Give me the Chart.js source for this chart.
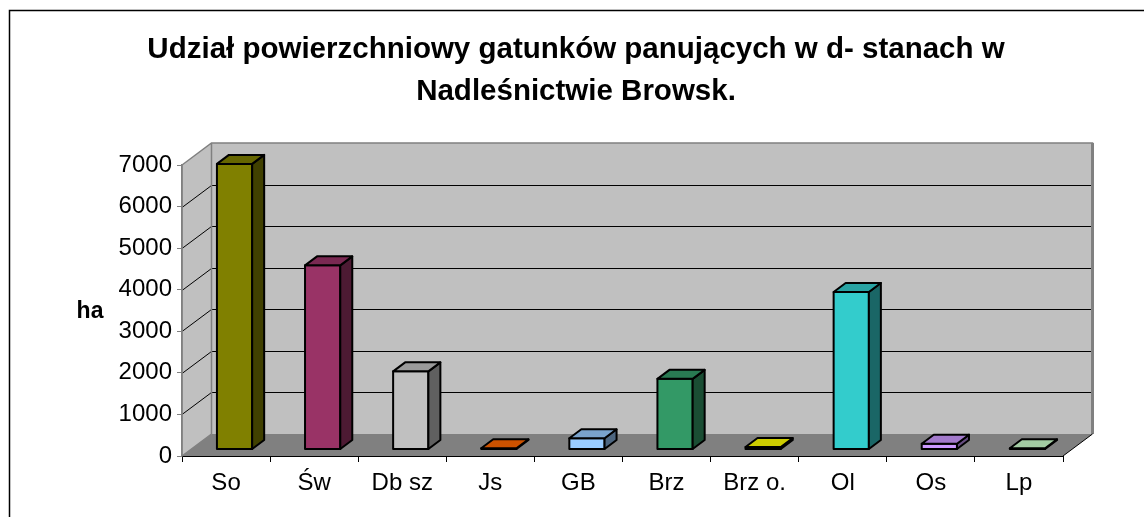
<!DOCTYPE html>
<html>
<head>
<meta charset="utf-8">
<script src="https://cdn.jsdelivr.net/npm/chart.js@4/dist/chart.umd.min.js"></script>
<style>
  html, body { margin: 0; padding: 0; background: #ffffff; }
  canvas { display: block; }
</style>
</head>
<body>
<canvas id="c" width="1144" height="517"></canvas>
<script>
const categories = ['So', 'Św', 'Db sz', 'Js', 'GB', 'Brz', 'Brz o.', 'Ol', 'Os', 'Lp'];
const areaHa = [6870, 4430, 1880, 30, 270, 1700, 60, 3790, 140, 30];
const barColors = ['#808000', '#993366', '#C0C0C0', '#FF6600', '#99CCFF', '#339966', '#FFFF00', '#33CCCC', '#CC99FF', '#CCFFCC'];
const yTicks = [0, 1000, 2000, 3000, 4000, 5000, 6000, 7000];
const titleLines = ['Udział powierzchniowy gatunków panujących w d- stanach w', 'Nadleśnictwie Browsk.'];
const yAxisName = 'ha';

const FONT = "'Liberation Sans', Arial, sans-serif";
// 3D projection constants (styling)
const DX = 29.5, DY = -22;      // floor/wall depth
const OX = 8.5, OY = -6.5;      // bar offset from front plane
const BDX = 12, BDY = -9;       // bar depth

function shade(hex, f) {
  const n = parseInt(hex.slice(1), 16);
  const r = Math.round(((n >> 16) & 255) * f);
  const g = Math.round(((n >> 8) & 255) * f);
  const b = Math.round((n & 255) * f);
  return `rgb(${r},${g},${b})`;
}

function poly(ctx, pts, fill, stroke, lw) {
  ctx.beginPath();
  ctx.moveTo(pts[0][0], pts[0][1]);
  for (let i = 1; i < pts.length; i++) ctx.lineTo(pts[i][0], pts[i][1]);
  ctx.closePath();
  if (fill) { ctx.fillStyle = fill; ctx.fill(); }
  if (stroke) { ctx.strokeStyle = stroke; ctx.lineWidth = lw || 1; ctx.stroke(); }
}

const wallsPlugin = {
  id: 'walls',
  beforeDraw(chart) {
    const ctx = chart.ctx;
    const ys = chart.scales.y;
    const a = chart.chartArea;
    ctx.save();
    ctx.fillStyle = '#ffffff';
    ctx.fillRect(0, 0, chart.width, chart.height);
    // outer frame
    ctx.strokeStyle = '#000000';
    ctx.lineWidth = 1.5;
    ctx.strokeRect(9.5, 10.5, chart.width + 20, chart.height + 20);

    const L = a.left, R = a.right;
    const T = ys.getPixelForValue(yTicks[yTicks.length - 1]);
    const B = ys.getPixelForValue(0);
    // back wall
    poly(ctx, [[L + DX, T + DY], [R + DX, T + DY], [R + DX, B + DY], [L + DX, B + DY]], '#C0C0C0', null);
    // left wall
    poly(ctx, [[L, T], [L + DX, T + DY], [L + DX, B + DY], [L, B]], '#C0C0C0', null);
    // floor
    poly(ctx, [[L, B], [R, B], [R + DX, B + DY], [L + DX, B + DY]], '#808080', null);

    // gridlines
    ctx.strokeStyle = '#000000';
    ctx.lineWidth = 1;
    for (const v of yTicks) {
      if (v === 0 || v === yTicks[yTicks.length - 1]) continue;
      const yy = Math.round(ys.getPixelForValue(v)) + 0.5;
      ctx.beginPath();
      ctx.moveTo(L, yy);
      ctx.lineTo(L + DX, yy + DY);
      ctx.lineTo(R + DX, yy + DY);
      ctx.stroke();
    }
    // wall edges (gray)
    ctx.strokeStyle = '#808080';
    ctx.lineWidth = 1.5;
    ctx.beginPath();
    ctx.moveTo(L, B); ctx.lineTo(L, T); ctx.lineTo(L + DX, T + DY); ctx.lineTo(R + DX, T + DY); ctx.lineTo(R + DX, B + DY);
    ctx.moveTo(L + DX, T + DY); ctx.lineTo(L + DX, B + DY);
    ctx.moveTo(L, B); ctx.lineTo(L + DX, B + DY);
    ctx.stroke();
    ctx.lineWidth = 3;
    ctx.beginPath();
    ctx.moveTo(R + DX, T + DY); ctx.lineTo(R + DX, B + DY);
    ctx.stroke();
    // floor right edge
    ctx.strokeStyle = '#000000';
    ctx.lineWidth = 1;
    ctx.beginPath();
    ctx.moveTo(R, B); ctx.lineTo(R + DX, B + DY);
    ctx.stroke();

    // axis name
    ctx.fillStyle = '#000000';
    ctx.font = 'bold 23px ' + FONT;
    ctx.textAlign = 'center';
    ctx.textBaseline = 'middle';
    ctx.fillText(yAxisName, 90, 312);
    ctx.restore();
  },
  afterDatasetsDraw(chart) {
    const ctx = chart.ctx;
    const meta = chart.getDatasetMeta(0);
    ctx.save();
    ctx.lineJoin = 'round';
    meta.data.forEach((el, i) => {
      const p = el.getProps(['x', 'y', 'base', 'width'], true);
      const col = barColors[i];
      const x1 = p.x - p.width / 2 + OX, x2 = p.x + p.width / 2 + OX;
      const top = p.y + OY, bot = p.base + OY;
      // front
      poly(ctx, [[x1, top], [x2, top], [x2, bot], [x1, bot]], col, '#000', 2);
      // side
      poly(ctx, [[x2, top], [x2 + BDX, top + BDY], [x2 + BDX, bot + BDY], [x2, bot]], shade(col, 0.5), '#000', 2);
      // top
      poly(ctx, [[x1, top], [x2, top], [x2 + BDX, top + BDY], [x1 + BDX, top + BDY]], shade(col, 0.8), '#000', 2);
    });
    ctx.restore();
  }
};

new Chart(document.getElementById('c'), {
  type: 'bar',
  data: {
    labels: categories,
    datasets: [{
      data: areaHa,
      backgroundColor: 'rgba(0,0,0,0)',
      borderWidth: 0,
      barPercentage: 0.4,
      categoryPercentage: 1
    }]
  },
  options: {
    responsive: false,
    animation: false,
    devicePixelRatio: 1,
    layout: { padding: { left: 89, right: 81, top: 0, bottom: 0 } },
    plugins: {
      legend: { display: false },
      tooltip: { enabled: false },
      title: {
        display: true,
        text: titleLines,
        color: '#000000',
        font: { family: FONT, size: 29.5, weight: 'bold', lineHeight: 1.424 },
        padding: { top: 29, bottom: 52 }
      }
    },
    scales: {
      x: {
        grid: { display: true, drawOnChartArea: false, drawTicks: true, tickLength: 6, color: '#000000', offset: true },
        border: { display: true, color: '#000000', width: 1 },
        ticks: { color: '#000000', font: { family: FONT, size: 24 }, padding: 7, maxRotation: 0, autoSkip: false },
        afterFit(s) { s.height = 61; }
      },
      y: {
        min: 0,
        max: 7000,
        grid: { display: true, drawOnChartArea: false, drawTicks: true, tickLength: 5, color: '#808080' },
        border: { display: true, color: '#808080', width: 1.5 },
        ticks: {
          stepSize: 1000,
          color: '#000000',
          font: { family: FONT, size: 24 },
          padding: 5,
          callback: (v) => String(v)
        },
        afterFit(s) { s.width = 93; }
      }
    }
  },
  plugins: [wallsPlugin]
});
</script>
</body>
</html>
